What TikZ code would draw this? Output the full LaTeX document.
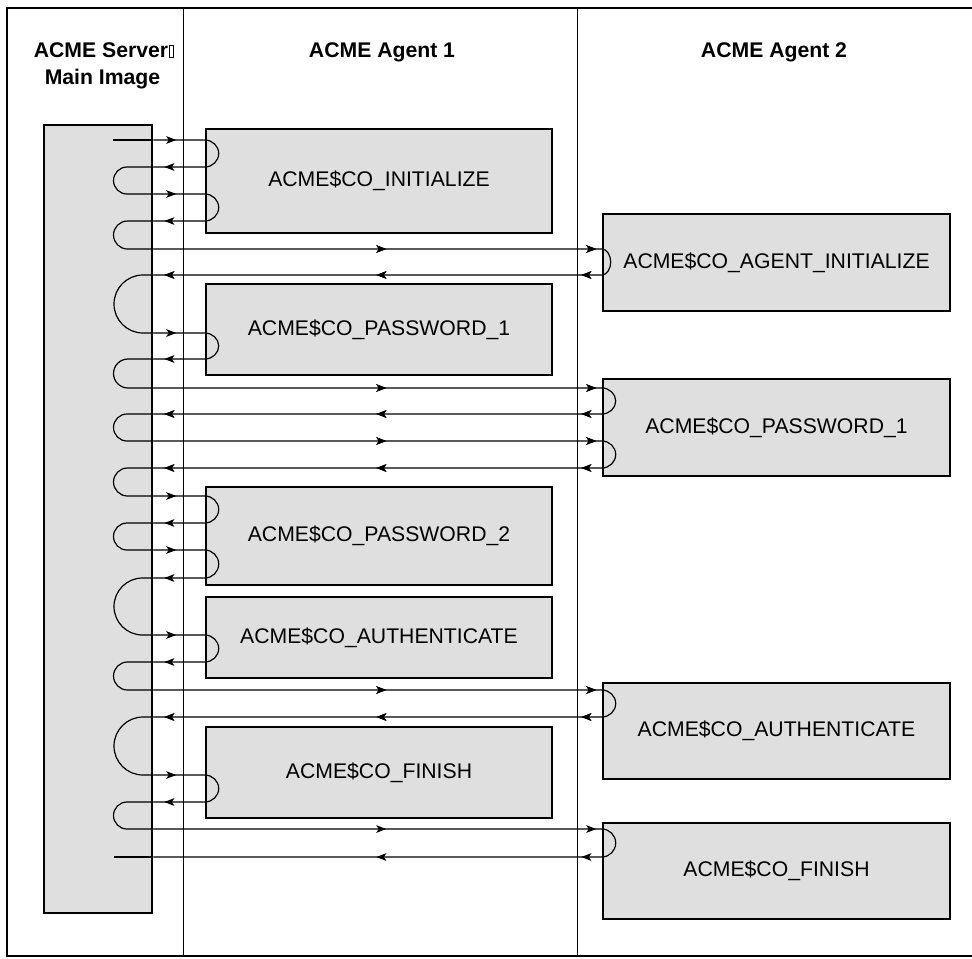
\documentclass[tikz,border=0pt]{standalone}
\usepackage{fontspec}
\setmainfont{Liberation Sans}
\usetikzlibrary{arrows.meta, decorations.markings, positioning}
\definecolor{boxgray}{gray}{0.875}
\newcommand\tofu{\kern0.6pt{\fboxsep=0pt\fboxrule=0.4pt\fbox{\rule{0pt}{5.5pt}\rule{1.6pt}{0pt}}}}

\begin{document}
\begin{tikzpicture}[
  x=0.5pt, y=-0.5pt,
  font=\fontsize{10.6}{13.5}\selectfont,
  > = {Stealth[length=5pt, width=3.8pt, inset=1.2pt]},
  box/.style = {draw, line width=1.3pt, fill=boxgray, rectangle, minimum width=173pt, inner sep=0pt},
  head/.style = {font=\fontsize{10.6}{13.5}\selectfont\bfseries, anchor=base},
  msg/.style = {line width=0.6pt},
  a1 call/.style = {msg, postaction=decorate, decoration={markings,
    mark=at position 11.5pt with \arrow{>}, mark=at position -5.5pt with \arrow{>}}},
  a2 last/.style = {msg, postaction=decorate, decoration={markings,
    mark=at position 116.5pt with \arrow{>}, mark=at position 221.5pt with \arrow{>},
    mark=at position -214pt with \arrow{>}, mark=at position -111.5pt with \arrow{>}}},
  a2 call/.style = {a2 last, postaction=decorate, decoration={markings,
    mark=at position 11.5pt with \arrow{>}, mark=at position -5.5pt with \arrow{>}}}
  ]
  \clip (0,0) rectangle (972,958);
  \draw[line width=1pt] (7,8) rectangle (990,956);
  \draw[line width=0.5pt] (183,8) -- (183,956);
  \draw[line width=0.5pt] (577,8) -- (577,956);

  \node[head] (srvhead) at (104,57) {ACME Server\tofu};
  \node[head] (srvsub) at (102.5,84) {Main Image};
  \node[head] (a1head) at (382,57) {ACME Agent 1};
  \node[head] (a2head) at (774,57) {ACME Agent 2};

  \node[box, minimum width=54pt, minimum height=394pt] (srv) at (98,519) {};
  \node[box, minimum height=52pt] (init1) at (379,181) {ACME\$CO\_INITIALIZE};
  \node[box, minimum height=45.5pt] (pwa1) at (379,329.5) {ACME\$CO\_PASSWORD\_1};
  \node[box, minimum height=49pt] (pwb1) at (379,536) {ACME\$CO\_PASSWORD\_2};
  \node[box, minimum height=40.5pt] (auth1) at (379,637.5) {ACME\$CO\_AUTHENTICATE};
  \node[box, minimum height=45.5pt] (fin1) at (379,772.5) {ACME\$CO\_FINISH};
  \node[box, minimum width=173.5pt, minimum height=48.5pt] (init2) at (776.5,262.5) {ACME\$CO\_AGENT\_INITIALIZE};
  \node[box, minimum width=173.5pt, minimum height=48.5pt] (pw2) at (776.5,427.5) {ACME\$CO\_PASSWORD\_1};
  \node[box, minimum width=173.5pt, minimum height=48pt] (auth2) at (776.5,731) {ACME\$CO\_AUTHENTICATE};
  \node[box, minimum width=173.5pt, minimum height=48pt] (fin2) at (776.5,871) {ACME\$CO\_FINISH};

  \coordinate (start) at (113,140);
  \coordinate (stop) at (114,857);

  \draw[msg] (start) -- (srv.east |- start);
  \draw[a1 call] (srv.east |- 0,140) -- (init1.west |- 0,140) arc[start angle=-90, end angle=90, x radius=14, y radius=13.5] -- (srv.east |- 0,167);
  \draw[msg] (srv.east |- 0,167) -- (127,167) arc[start angle=270, end angle=90, radius=13.5] -- (srv.east |- 0,194);
  \draw[a1 call] (srv.east |- 0,194) -- (init1.west |- 0,194) arc[start angle=-90, end angle=90, x radius=14, y radius=13.5] -- (srv.east |- 0,221);
  \draw[msg] (srv.east |- 0,221) -- (127.5,221) arc[start angle=270, end angle=90, radius=14] -- (srv.east |- 0,249);
  \draw[a2 call] (srv.east |- 0,249) -- (init2.west |- 0,249) arc[start angle=-90, end angle=90, x radius=9, y radius=13] -- (srv.east |- 0,275);
  \draw[msg] (srv.east |- 0,275) -- (143,275) arc[start angle=270, end angle=90, radius=29] -- (srv.east |- 0,333);
  \draw[a1 call] (srv.east |- 0,333) -- (pwa1.west |- 0,333) arc[start angle=-90, end angle=90, x radius=14, y radius=13] -- (srv.east |- 0,359);
  \draw[msg] (srv.east |- 0,359) -- (128,359) arc[start angle=270, end angle=90, radius=14.5] -- (srv.east |- 0,388);
  \draw[a2 call] (srv.east |- 0,388) -- (pw2.west |- 0,388) arc[start angle=-90, end angle=90, x radius=14, y radius=13] -- (srv.east |- 0,414);
  \draw[msg] (srv.east |- 0,414) -- (127,414) arc[start angle=270, end angle=90, radius=13.5] -- (srv.east |- 0,441);
  \draw[a2 call] (srv.east |- 0,441) -- (pw2.west |- 0,441) arc[start angle=-90, end angle=90, x radius=14, y radius=13.5] -- (srv.east |- 0,468);
  \draw[msg] (srv.east |- 0,468) -- (127.5,468) arc[start angle=270, end angle=90, radius=14] -- (srv.east |- 0,496);
  \draw[a1 call] (srv.east |- 0,496) -- (pwb1.west |- 0,496) arc[start angle=-90, end angle=90, x radius=14, y radius=13.5] -- (srv.east |- 0,523);
  \draw[msg] (srv.east |- 0,523) -- (127,523) arc[start angle=270, end angle=90, radius=13.5] -- (srv.east |- 0,550);
  \draw[a1 call] (srv.east |- 0,550) -- (pwb1.west |- 0,550) arc[start angle=-90, end angle=90, x radius=14, y radius=14] -- (srv.east |- 0,578);
  \draw[msg] (srv.east |- 0,578) -- (142.5,578) arc[start angle=270, end angle=90, radius=28.5] -- (srv.east |- 0,635);
  \draw[a1 call] (srv.east |- 0,635) -- (auth1.west |- 0,635) arc[start angle=-90, end angle=90, x radius=14, y radius=13.5] -- (srv.east |- 0,662);
  \draw[msg] (srv.east |- 0,662) -- (127.5,662) arc[start angle=270, end angle=90, radius=14] -- (srv.east |- 0,690);
  \draw[a2 call] (srv.east |- 0,690) -- (auth2.west |- 0,690) arc[start angle=-90, end angle=90, x radius=14, y radius=13.5] -- (srv.east |- 0,717);
  \draw[msg] (srv.east |- 0,717) -- (143,717) arc[start angle=270, end angle=90, radius=29] -- (srv.east |- 0,775);
  \draw[a1 call] (srv.east |- 0,775) -- (fin1.west |- 0,775) arc[start angle=-90, end angle=90, x radius=14, y radius=13.5] -- (srv.east |- 0,802);
  \draw[msg] (srv.east |- 0,802) -- (127,802) arc[start angle=270, end angle=90, radius=13.5] -- (srv.east |- 0,829);
  \draw[a2 last] (srv.east |- 0,829) -- (fin2.west |- 0,829) arc[start angle=-90, end angle=90, x radius=14, y radius=14] -- (srv.east |- 0,857);
  \draw[msg] (srv.east |- stop) -- (stop);
\end{tikzpicture}
\end{document}
